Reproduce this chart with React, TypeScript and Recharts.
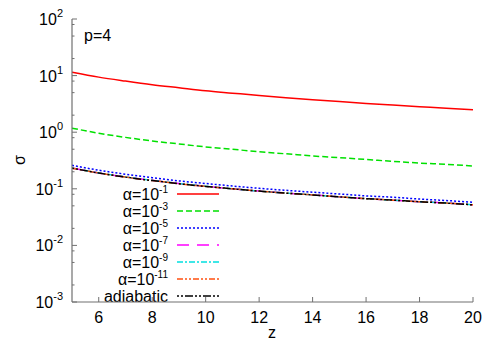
import { LineChart, Line, XAxis, YAxis, Customized } from 'recharts';

const zValues = [5, 6, 7, 8, 9, 10, 11, 12, 13, 14, 15, 16, 17, 18, 19, 20];
const sigmaA1 = [11.5, 9.4, 8.0, 6.9, 6.1, 5.4, 4.9, 4.45, 4.08, 3.76, 3.48, 3.23, 3.02, 2.83, 2.66, 2.48];
const sigmaA3 = [1.18, 0.96, 0.81, 0.7, 0.62, 0.55, 0.5, 0.45, 0.415, 0.38, 0.355, 0.33, 0.305, 0.285, 0.27, 0.253];
const sigmaA5 = [0.26, 0.213, 0.181, 0.157, 0.138, 0.124, 0.112, 0.102, 0.094, 0.087, 0.081, 0.075, 0.071, 0.066, 0.062, 0.058];
const sigmaA7 = [0.233, 0.191, 0.162, 0.141, 0.124, 0.111, 0.1, 0.091, 0.084, 0.078, 0.072, 0.067, 0.063, 0.059, 0.056, 0.052];
const sigmaA9 = [0.233, 0.191, 0.162, 0.141, 0.124, 0.111, 0.1, 0.091, 0.084, 0.078, 0.072, 0.067, 0.063, 0.059, 0.056, 0.052];
const sigmaA11 = [0.232, 0.19, 0.161, 0.14, 0.123, 0.11, 0.1, 0.091, 0.084, 0.078, 0.072, 0.067, 0.063, 0.059, 0.056, 0.052];
const sigmaAdiabatic = [0.232, 0.19, 0.161, 0.14, 0.123, 0.11, 0.1, 0.091, 0.084, 0.078, 0.072, 0.067, 0.063, 0.059, 0.056, 0.052];

const xTicks = [6, 8, 10, 12, 14, 16, 18, 20];
const yTicks = [
    0.001, 0.002, 0.005, 0.008,
    0.01, 0.02, 0.05, 0.08,
    0.1, 0.2, 0.5, 0.8,
    1, 2, 5, 8,
    10, 20, 50, 80,
    100,
];

const series = [
    { key: 'a1', exp: '-1', label: 'α=10', color: '#ff0000', dash: undefined },
    { key: 'a3', exp: '-3', label: 'α=10', color: '#00e000', dash: '6 3' },
    { key: 'a5', exp: '-5', label: 'α=10', color: '#0000ff', dash: '2 2' },
    { key: 'a7', exp: '-7', label: 'α=10', color: '#ff00ff', dash: '12 8' },
    { key: 'a9', exp: '-9', label: 'α=10', color: '#00e0e0', dash: '6 2 2 2' },
    { key: 'a11', exp: '-11', label: 'α=10', color: '#ff5010', dash: '6 2 2 2 2 2' },
    { key: 'ad', exp: '', label: 'adiabatic', color: '#000000', dash: '2 2 2 2 8 2' },
];

const data = zValues.map((z, i) => ({
    z,
    a1: sigmaA1[i],
    a3: sigmaA3[i],
    a5: sigmaA5[i],
    a7: sigmaA7[i],
    a9: sigmaA9[i],
    a11: sigmaA11[i],
    ad: sigmaAdiabatic[i],
}));

const FONT = '"Liberation Sans", Arial, sans-serif';
const FRAME = '#707070';

const isDecade = (v: number) => Math.abs(Math.log10(v) - Math.round(Math.log10(v))) < 1e-6;

const LeftTick = (props: any) => {
    const { x, y, payload } = props;
    const v = payload.value;
    const major = isDecade(v);
    return (
        <g>
            <line x1={x} x2={x + (major ? 5 : 2.5)} y1={y} y2={y} stroke={FRAME} />
            {major && (
                <text x={x - 9} y={y + 6} textAnchor="end" fontFamily={FONT} fontSize={16} fill="#000">
                    <tspan>10</tspan>
                    <tspan dy={-8} fontSize={11}>{Math.round(Math.log10(v))}</tspan>
                </text>
            )}
        </g>
    );
};

const RightTick = (props: any) => {
    const { x, y, payload } = props;
    const major = isDecade(payload.value);
    return <line x1={x} x2={x - (major ? 5 : 2.5)} y1={y} y2={y} stroke={FRAME} />;
};

const BottomTick = (props: any) => {
    const { x, y, payload } = props;
    return (
        <g>
            <line x1={x} x2={x} y1={y} y2={y - 5} stroke={FRAME} />
            <text x={x} y={y + 21} textAnchor="middle" fontFamily={FONT} fontSize={16} fill="#000">
                {payload.value}
            </text>
        </g>
    );
};

const TopTick = (props: any) => {
    const { x, y } = props;
    return <line x1={x} x2={x} y1={y} y2={y + 5} stroke={FRAME} />;
};

const LegendBox = () => (
    <g fontFamily={FONT} fontSize={16}>
        {series.map((s, i) => {
            const cy = 186 + i * 17;
            return (
                <g key={s.key}>
                    <text x={160} y={cy + 6} textAnchor="end" fill="#000">
                        <tspan>{s.label}</tspan>
                        {s.exp && <tspan dy={-7} fontSize={10}>{s.exp}</tspan>}
                    </text>
                    <line x1={169} x2={211} y1={cy} y2={cy} stroke={s.color} strokeWidth={1.5} strokeDasharray={s.dash} />
                </g>
            );
        })}
        <text x={76} y={33} fontSize={16} fill="#000">p=4</text>
        <text x={264} y={330} textAnchor="middle" fontSize={16} fill="#000">z</text>
        <text x={12} y={152} textAnchor="middle" fontSize={16} fill="#000" transform="rotate(-90 12 152)" dy={5}>σ</text>
    </g>
);

export default function App() {
    return (
        <LineChart
            width={492}
            height={342}
            data={data}
            margin={{ top: 11, right: 27, bottom: 18, left: 14 }}
        >
            <XAxis
                xAxisId="bottom"
                type="number"
                dataKey="z"
                domain={[5, 20]}
                ticks={xTicks}
                height={30}
                tickSize={0}
                tickMargin={0}
                tickLine={false}
                tick={BottomTick}
                axisLine={{ stroke: FRAME, strokeWidth: 1.2 }}
                allowDataOverflow
            />
            <XAxis
                xAxisId="top"
                orientation="top"
                type="number"
                dataKey="z"
                domain={[5, 20]}
                ticks={xTicks}
                height={0}
                tickSize={0}
                tickMargin={0}
                tickLine={false}
                tick={TopTick}
                axisLine={{ stroke: FRAME, strokeWidth: 1.2 }}
                allowDataOverflow
            />
            <YAxis
                yAxisId="left"
                scale="log"
                domain={[0.001, 100]}
                ticks={yTicks}
                width={50}
                tickSize={0}
                tickMargin={0}
                tickLine={false}
                tick={LeftTick}
                axisLine={{ stroke: FRAME, strokeWidth: 1.2 }}
                allowDataOverflow
                interval={0}
            />
            <YAxis
                yAxisId="right"
                orientation="right"
                scale="log"
                domain={[0.001, 100]}
                ticks={yTicks}
                width={0}
                tickSize={0}
                tickMargin={0}
                tickLine={false}
                tick={RightTick}
                axisLine={{ stroke: FRAME, strokeWidth: 1.2 }}
                allowDataOverflow
                interval={0}
            />
            {series.map(s => (
                <Line
                    key={s.key}
                    xAxisId="bottom"
                    yAxisId="left"
                    type="monotone"
                    dataKey={s.key}
                    stroke={s.color}
                    strokeWidth={1.5}
                    strokeDasharray={s.dash}
                    dot={false}
                    isAnimationActive={false}
                />
            ))}
            <Customized component={LegendBox} />
        </LineChart>
    );
}
